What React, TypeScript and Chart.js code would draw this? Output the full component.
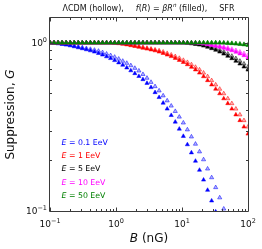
import React, { useEffect, useRef } from "react";
import { Chart, registerables } from "chart.js";
Chart.register(...registerables);

// Magnetic field strength grid, B (nG)
const B_NG = [
  0.1, 0.1151, 0.1326, 0.1526, 0.1758, 0.2024, 0.233, 0.2683, 0.3089, 0.3556,
  0.4095, 0.4715, 0.5429, 0.6251, 0.7197, 0.8287, 0.9541, 1.0985, 1.2649, 1.4563,
  1.6768, 1.9307, 2.223, 2.5595, 2.9471, 3.3932, 3.9069, 4.4984, 5.1795, 5.9636,
  6.8665, 7.906, 9.103, 10.481, 12.068, 13.895, 15.999, 18.421, 21.21, 24.421,
  28.118, 32.375, 37.276, 42.919, 49.417, 56.898, 65.513, 75.431, 86.851, 100,
];

// Suppression G, LambdaCDM (hollow) and f(R) (filled), per energy
const G_LCDM_E01 = [
  0.999, 0.997, 0.992, 0.985, 0.977, 0.968, 0.957, 0.947, 0.935, 0.924,
  0.914, 0.903, 0.891, 0.874, 0.857, 0.839, 0.821, 0.8, 0.777, 0.755,
  0.731, 0.705, 0.68, 0.648, 0.616, 0.582, 0.549, 0.518, 0.484, 0.452,
  0.421, 0.391, 0.362, 0.334, 0.304, 0.276, 0.25, 0.225, 0.202, 0.178,
  0.158, 0.138, 0.12, 0.103, 0.089, 0.077, 0.066, 0.056, 0.048, 0.04,
];
const G_FR_E01 = [
  0.998, 0.993, 0.986, 0.978, 0.969, 0.959, 0.947, 0.934, 0.922, 0.909,
  0.896, 0.881, 0.864, 0.846, 0.826, 0.806, 0.784, 0.76, 0.736, 0.709,
  0.682, 0.656, 0.631, 0.604, 0.574, 0.542, 0.506, 0.473, 0.438, 0.404,
  0.37, 0.338, 0.307, 0.278, 0.248, 0.222, 0.198, 0.175, 0.153, 0.133,
  0.115, 0.099, 0.086, 0.074, 0.063, 0.054, 0.046, 0.039, 0.033, 0.028,
];
const G_LCDM_E1 = [
  0.999, 0.999, 0.999, 0.999, 0.999, 0.999, 0.999, 0.999, 0.999, 0.999,
  0.999, 0.999, 0.999, 0.999, 0.999, 0.999, 0.998, 0.994, 0.988, 0.98,
  0.972, 0.961, 0.951, 0.94, 0.928, 0.918, 0.907, 0.896, 0.881, 0.864,
  0.846, 0.828, 0.808, 0.786, 0.764, 0.741, 0.715, 0.69, 0.661, 0.629,
  0.596, 0.562, 0.53, 0.498, 0.465, 0.435, 0.404, 0.373, 0.345, 0.316,
];
const G_FR_E1 = [
  0.999, 0.999, 0.999, 0.999, 0.999, 0.999, 0.999, 0.999, 0.999, 0.999,
  0.999, 0.999, 0.999, 0.999, 0.999, 0.998, 0.994, 0.988, 0.98, 0.972,
  0.961, 0.951, 0.94, 0.928, 0.918, 0.907, 0.896, 0.881, 0.864, 0.846,
  0.828, 0.808, 0.786, 0.764, 0.741, 0.715, 0.69, 0.661, 0.629, 0.596,
  0.562, 0.53, 0.498, 0.465, 0.435, 0.404, 0.373, 0.345, 0.316, 0.287,
];
const G_LCDM_E5 = [
  0.999, 0.999, 0.999, 0.999, 0.999, 0.999, 0.999, 0.999, 0.999, 0.999,
  0.999, 0.999, 0.999, 0.999, 0.999, 0.999, 0.999, 0.999, 0.999, 0.999,
  0.999, 0.999, 0.999, 0.999, 0.999, 0.999, 0.999, 0.999, 0.999, 0.999,
  0.999, 0.999, 0.999, 0.998, 0.996, 0.992, 0.986, 0.978, 0.969, 0.956,
  0.941, 0.923, 0.903, 0.881, 0.857, 0.832, 0.805, 0.777, 0.748, 0.718,
];
const G_FR_E5 = [
  0.999, 0.999, 0.999, 0.999, 0.999, 0.999, 0.999, 0.999, 0.999, 0.999,
  0.999, 0.999, 0.999, 0.999, 0.999, 0.999, 0.999, 0.999, 0.999, 0.999,
  0.999, 0.999, 0.999, 0.999, 0.999, 0.999, 0.999, 0.999, 0.999, 0.999,
  0.999, 0.999, 0.998, 0.997, 0.993, 0.986, 0.978, 0.969, 0.956, 0.941,
  0.923, 0.903, 0.881, 0.857, 0.832, 0.805, 0.777, 0.748, 0.718, 0.689,
];
const G_LCDM_E10 = [
  0.999, 0.999, 0.999, 0.999, 0.999, 0.999, 0.999, 0.999, 0.999, 0.999,
  0.999, 0.999, 0.999, 0.999, 0.999, 0.999, 0.999, 0.999, 0.999, 0.999,
  0.999, 0.999, 0.999, 0.999, 0.999, 0.999, 0.999, 0.999, 0.999, 0.999,
  0.999, 0.999, 0.999, 0.999, 0.999, 0.999, 0.999, 0.995, 0.989, 0.982,
  0.974, 0.965, 0.955, 0.943, 0.93, 0.915, 0.899, 0.881, 0.861, 0.84,
];
const G_FR_E10 = [
  0.999, 0.999, 0.999, 0.999, 0.999, 0.999, 0.999, 0.999, 0.999, 0.999,
  0.999, 0.999, 0.999, 0.999, 0.999, 0.999, 0.999, 0.999, 0.999, 0.999,
  0.999, 0.999, 0.999, 0.999, 0.999, 0.999, 0.999, 0.999, 0.999, 0.999,
  0.999, 0.999, 0.999, 0.999, 0.999, 0.999, 0.997, 0.991, 0.984, 0.975,
  0.965, 0.954, 0.942, 0.928, 0.913, 0.897, 0.879, 0.859, 0.838, 0.812,
];
const G_LCDM_E50 = [
  0.999, 0.999, 0.999, 0.999, 0.999, 0.999, 0.999, 0.999, 0.999, 0.999,
  0.999, 0.999, 0.999, 0.999, 0.999, 0.999, 0.999, 0.999, 0.999, 0.999,
  0.999, 0.999, 0.999, 0.999, 0.999, 0.999, 0.999, 0.999, 0.999, 0.999,
  0.999, 0.999, 0.999, 0.999, 0.999, 0.999, 0.999, 0.999, 0.999, 0.999,
  0.999, 0.999, 0.999, 0.997, 0.995, 0.992, 0.988, 0.984, 0.978, 0.972,
];
const G_FR_E50 = [
  0.999, 0.999, 0.999, 0.999, 0.999, 0.999, 0.999, 0.999, 0.999, 0.999,
  0.999, 0.999, 0.999, 0.999, 0.999, 0.999, 0.999, 0.999, 0.999, 0.999,
  0.999, 0.999, 0.999, 0.999, 0.999, 0.999, 0.999, 0.999, 0.999, 0.999,
  0.999, 0.999, 0.999, 0.999, 0.999, 0.999, 0.999, 0.999, 0.999, 0.999,
  0.999, 0.999, 0.998, 0.996, 0.992, 0.988, 0.984, 0.978, 0.972, 0.963,
];

const ENERGY_LABELS = ["0.1", "1", "5", "10", "50"];
const X_TICKS = [0.1, 1, 10, 100];
const X_TICK_EXPS = ["\u22121", "0", "1", "2"];
const Y_TICKS = [0.1, 1];
const Y_TICK_EXPS = ["\u22121", "0"];

const LCDM_SERIES = [G_LCDM_E01, G_LCDM_E1, G_LCDM_E5, G_LCDM_E10, G_LCDM_E50];
const FR_SERIES = [G_FR_E01, G_FR_E1, G_FR_E5, G_FR_E10, G_FR_E50];

// styles
const COLORS = ["#0000ff", "#ff0000", "#000000", "#ff00ff", "#008000"];
const RGB = ["0,0,255", "255,0,0", "0,0,0", "255,0,255", "0,128,0"];
const FONT = '"DejaVu Sans", sans-serif';
const AXIS_COLOR = "#3a3a3a";

type Run = { t?: string; font?: string; dy?: number; gap?: number };

function runsWidth(ctx: CanvasRenderingContext2D, runs: Run[]) {
  let w = 0;
  for (const r of runs) {
    if (r.gap) { w += r.gap; continue; }
    ctx.font = r.font!;
    w += ctx.measureText(r.t!).width;
  }
  return w;
}

function drawRuns(ctx: CanvasRenderingContext2D, runs: Run[], x: number, y: number, align: "left" | "center" | "right") {
  const w = runsWidth(ctx, runs);
  let cur = align === "left" ? x : align === "center" ? x - w / 2 : x - w;
  ctx.textAlign = "left";
  ctx.textBaseline = "alphabetic";
  for (const r of runs) {
    if (r.gap) { cur += r.gap; continue; }
    ctx.font = r.font!;
    ctx.fillText(r.t!, cur, y + (r.dy || 0));
    cur += ctx.measureText(r.t!).width;
  }
}

const overlayPlugin = {
  id: "overlay",
  afterDraw(chart: any) {
    const ctx: CanvasRenderingContext2D = chart.ctx;
    const { left, right, top, bottom } = chart.chartArea;
    const xs = chart.scales.x;
    const ys = chart.scales.y;
    ctx.save();
    ctx.strokeStyle = AXIS_COLOR;
    ctx.lineWidth = 1;
    // frame
    ctx.beginPath();
    ctx.rect(left - 0.5, top - 0.5, right - left + 1, bottom - top + 1);
    ctx.stroke();
    // ticks
    const major = 3.5, minor = 2;
    ctx.beginPath();
    const xMinor: number[] = [];
    for (const d of [0.1, 1, 10]) for (let m = 2; m <= 9; m++) xMinor.push(d * m);
    for (const v of X_TICKS) {
      const p = Math.round(xs.getPixelForValue(v)) + 0.5;
      ctx.moveTo(p, bottom); ctx.lineTo(p, bottom - major);
      ctx.moveTo(p, top); ctx.lineTo(p, top + major);
    }
    for (const v of xMinor) {
      const p = Math.round(xs.getPixelForValue(v)) + 0.5;
      ctx.moveTo(p, bottom); ctx.lineTo(p, bottom - minor);
      ctx.moveTo(p, top); ctx.lineTo(p, top + minor);
    }
    const yMinor: number[] = [];
    for (let m = 2; m <= 9; m++) yMinor.push(0.1 * m);
    for (const v of Y_TICKS) {
      const p = Math.round(ys.getPixelForValue(v)) + 0.5;
      ctx.moveTo(left, p); ctx.lineTo(left + major, p);
      ctx.moveTo(right, p); ctx.lineTo(right - major, p);
    }
    for (const v of yMinor) {
      const p = Math.round(ys.getPixelForValue(v)) + 0.5;
      ctx.moveTo(left, p); ctx.lineTo(left + minor, p);
      ctx.moveTo(right, p); ctx.lineTo(right - minor, p);
    }
    ctx.stroke();

    // tick labels
    ctx.fillStyle = "#111";
    const base = `9px ${FONT}`;
    const sup = `6.5px ${FONT}`;
    X_TICKS.forEach((v, i) => {
      const p = xs.getPixelForValue(v);
      drawRuns(ctx, [{ t: "10", font: base }, { t: X_TICK_EXPS[i], font: sup, dy: -4 }], p, 227, "center");
    });
    Y_TICKS.forEach((v, i) => {
      const p = ys.getPixelForValue(v);
      drawRuns(ctx, [{ t: "10", font: base }, { t: Y_TICK_EXPS[i], font: sup, dy: -4 }], left - 3, p + 3.3, "right");
    });

    // axis labels
    drawRuns(ctx, [{ t: "B", font: `italic 12px ${FONT}` }, { t: " (nG)", font: `12px ${FONT}` }], (left + right) / 2, 242, "center");
    ctx.save();
    ctx.translate(10, (top + bottom) / 2);
    ctx.rotate(-Math.PI / 2);
    drawRuns(ctx, [{ t: "Suppression, ", font: `12px ${FONT}` }, { t: "G", font: `italic 12px ${FONT}` }], 0, 4.4, "center");
    ctx.restore();

    // title
    const tf = `8px ${FONT}`;
    const ti = `italic 8px ${FONT}`;
    drawRuns(ctx, [
      { t: "\u039BCDM (hollow),", font: tf },
      { gap: 12 },
      { t: "f", font: ti }, { t: "(", font: tf }, { t: "R", font: ti }, { t: ")", font: tf },
      { t: " = ", font: tf },
      { t: "\u03B2R", font: ti }, { t: "n", font: `italic 5.6px ${FONT}`, dy: -3.3 },
      { t: " (filled),", font: tf },
      { gap: 12 },
      { t: "SFR", font: tf },
    ], 148.5, 10.5, "center");

    // legend texts
    ENERGY_LABELS.forEach((e, i) => {
      ctx.fillStyle = COLORS[i];
      drawRuns(ctx, [
        { t: "E", font: `italic 7.8px ${FONT}` },
        { t: ` = ${e} EeV`, font: `7.8px ${FONT}` },
      ], 61.5, 141.7 + 13.3 * i + 2.9, "left");
    });
    ctx.restore();
  },
};

export default function App() {
  const ref = useRef<HTMLCanvasElement | null>(null);
  useEffect(() => {
    if (!ref.current) return;
    const datasets: any[] = [];
    for (let i = COLORS.length - 1; i >= 0; i--) {
      datasets.push({
        label: `f(R) E=${ENERGY_LABELS[i]}`,
        data: B_NG.map((b, k) => ({ x: b, y: FR_SERIES[i][k] })),
        pointStyle: "triangle",
        pointRadius: 2.4,
        backgroundColor: COLORS[i],
        borderColor: COLORS[i],
        borderWidth: 0.5,
        showLine: false,
        clip: 0,
      });
      datasets.push({
        label: `LCDM E=${ENERGY_LABELS[i]}`,
        data: B_NG.map((b, k) => ({ x: b, y: LCDM_SERIES[i][k] })),
        pointStyle: "triangle",
        pointRadius: 2.4,
        backgroundColor: `rgba(${RGB[i]},0.3)`,
        borderColor: `rgba(${RGB[i]},0.65)`,
        borderWidth: 0.8,
        showLine: false,
        clip: 0,
      });
    }
    const chart = new Chart(ref.current, {
      type: "scatter",
      data: { datasets },
      options: {
        animation: false,
        responsive: false,
        maintainAspectRatio: false,
        devicePixelRatio: 1,
        layout: { padding: { top: 18, right: 14, left: 0, bottom: 0 } },
        plugins: { legend: { display: false }, tooltip: { enabled: false }, title: { display: false } },
        scales: {
          x: {
            type: "logarithmic",
            min: 0.1,
            max: 100,
            ticks: { display: false },
            grid: { display: false },
            border: { display: false },
            afterFit: (s: any) => { s.height = 38; },
          },
          y: {
            type: "logarithmic",
            min: 0.1,
            max: 1.4,
            ticks: { display: false },
            grid: { display: false },
            border: { display: false },
            afterFit: (s: any) => { s.width = 50; },
          },
        },
      } as any,
      plugins: [overlayPlugin],
    });
    return () => chart.destroy();
  }, []);
  return (
    <div style={{ position: "absolute", left: 0, top: 0, width: 262, height: 249, background: "#fff" }}>
      <canvas ref={ref} width={262} height={249} style={{ display: "block" }} />
    </div>
  );
}
